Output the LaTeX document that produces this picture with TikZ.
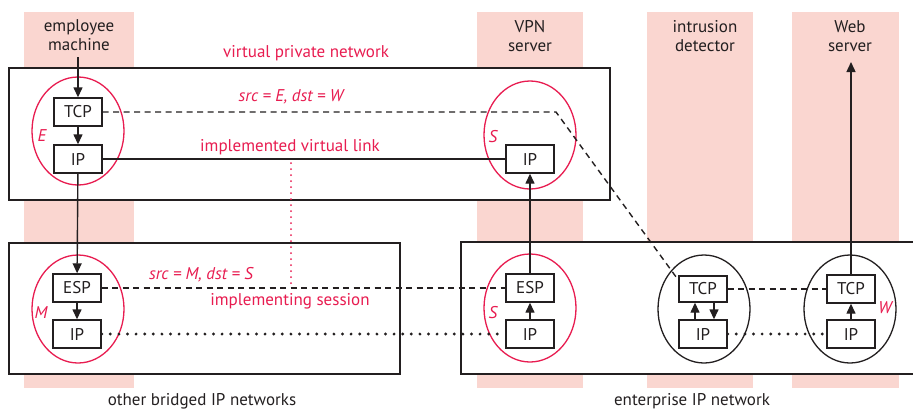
\documentclass[tikz,border=0pt]{standalone}
\usepackage{fontspec}
\setmainfont{PT Sans}
\usetikzlibrary{arrows.meta, shapes.geometric, positioning}
\definecolor{vpnred}{RGB}{232,28,80}
\definecolor{colpink}{RGB}{250,214,208}
\definecolor{ink}{RGB}{35,31,32}

\begin{document}
\begin{tikzpicture}[x=1pt, y=-1pt,
  every node/.style={font=\fontsize{17}{19}\selectfont, text=ink},
  layer/.style={draw=ink, fill=white, line width=1.4pt, minimum width=48pt, minimum height=28pt, inner sep=0pt},
  host/.style={ellipse, draw, line width=1.3pt, minimum width=92pt, minimum height=108pt, inner sep=0pt},
  tag/.style={text=vpnred},
  hostname/.style={text=vpnred, font=\fontsize{17}{19}\selectfont\itshape},
  net/.style={draw=ink, fill=white, line width=1.4pt},
  flow/.style={ink, line width=1.4pt, -{Triangle[length=10pt,width=9pt]}},
  sess/.style={ink, line width=1.4pt, dash pattern=on 6pt off 4.5pt},
  ipdots/.style={ink, line width=3.2pt, dash pattern=on 0pt off 8.6pt, line cap=round},
  reddots/.style={vpnred, line width=2pt, dash pattern=on 0pt off 6pt, line cap=round}]
\useasboundingbox (0,0) rectangle (913,410);
\fill[colpink] (24,12) rectangle (134,388);
\fill[colpink] (477,12) rectangle (583,388);
\fill[colpink] (647,12) rectangle (753,388);
\fill[colpink] (792,12) rectangle (899,388);
\draw[net] (9,68) rectangle (610,200);
\draw[net] (9,243) rectangle (400,374);
\fill[white] (461,242) rectangle (913,374);
\draw[ink, line width=1.4pt] (913,242) -- (461,242) -- (461,374) -- (913,374);

\node[align=center] (lblE) at (79,35) {employee\\machine};
\node[align=center] (lblS) at (530,36) {VPN\\server};
\node[align=center] (lblD) at (705,36) {intrusion\\detector};
\node[align=center] (lblW) at (850,36) {Web\\server};
\node (netL) at (202,401) {other bridged IP networks};
\node (netR) at (692,401) {enterprise IP network};
\node[tag] (vpn) at (306,53) {virtual private network};
\node[tag] (addrT) at (291,97) {\itshape src = E, dst = W};
\node[tag] (link) at (290,147) {implemented virtual link};
\node[tag] (addrS) at (201,275) {\itshape src = M, dst = S};
\node[tag] (sess) at (290,301) {implementing session};

\node[host, draw=vpnred] (hostE) at (78,131) {};
\node[host, draw=vpnred] (hostM) at (78,309) {};
\node[host, draw=vpnred] (hostS) at (530,135) {};
\node[host, draw=vpnred] (hostS2) at (530,308) {};
\node[host, draw=ink] (hostD) at (704,309) {};
\node[host, draw=ink] (hostW) at (850,309) {};
\node[hostname] (nameE) at (42,136) {E};
\node[hostname] (nameM) at (41,313) {M};
\node[hostname] (nameS) at (493,137) {S};
\node[hostname] (nameS2) at (493,313) {S};
\node[hostname] (nameW) at (885,308) {W};

\node[layer] (tcpE) at (78,112) {TCP};
\node[layer] (ipE) at (78,159) {IP};
\node[layer] (espM) at (77,288) {ESP};
\node[layer] (ipM) at (77,334) {IP};
\node[layer] (ipS) at (530,159) {IP};
\node[layer] (espS) at (530,288) {ESP};
\node[layer] (ipS2) at (530,334) {IP};
\node[layer, minimum height=26pt] (tcpD) at (703,289) {TCP};
\node[layer] (ipD) at (703,334) {IP};
\node[layer] (tcpW) at (851,289) {TCP};
\node[layer] (ipW) at (851,334) {IP};

\coordinate (inE) at (78,57);
\coordinate (outW) at (851,62);
\coordinate (bend) at (556,112);
\coordinate (linkdot) at (291,163);
\coordinate (sessdot) at (291,284);

\draw[flow] (inE) -- (tcpE);
\draw[flow] (tcpE) -- (ipE);
\draw[flow] (ipE) -- (espM);
\draw[flow] (espM) -- (ipM);
\draw[flow] (espS) -- (ipS);
\draw[flow] (ipS2) -- (espS);
\draw[flow] ([xshift=-8pt]ipD.north) -- ([xshift=-8pt]tcpD.south);
\draw[flow] ([xshift=11pt]tcpD.south) -- ([xshift=11pt]ipD.north);
\draw[flow] (ipW) -- (tcpW);
\draw[flow] (tcpW) -- (outW);
\draw[ink, line width=1.4pt] (ipE) -- (ipS);
\draw[sess] (tcpE) -- (bend) -- (tcpD.160);
\draw[sess] (espM) -- (espS);
\draw[sess] (tcpD) -- (tcpW);
\draw[ipdots] (ipM) -- (ipS2);
\draw[ipdots] (ipD) -- (ipW);
\draw[reddots] (linkdot) -- (sessdot);
\end{tikzpicture}
\end{document}
